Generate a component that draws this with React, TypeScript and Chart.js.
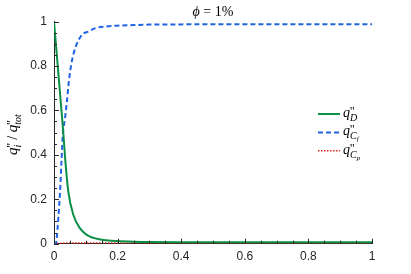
import React, { useEffect, useRef } from "react";
import { Chart, registerables } from "chart.js";

Chart.register(...registerables);

// q''_D (green, solid)
const xD = [0, 0.005, 0.0147, 0.022, 0.029, 0.035, 0.045, 0.061, 0.082, 0.1, 0.113, 0.13, 0.155, 0.197, 0.25, 0.3, 0.4, 0.5, 0.6, 0.7, 0.8, 0.9, 1];
const yD = [1, 0.915, 0.75, 0.625, 0.505, 0.385, 0.234, 0.129, 0.069, 0.043, 0.032, 0.024, 0.017, 0.012, 0.009, 0.008, 0.007, 0.007, 0.006, 0.006, 0.006, 0.006, 0.006];

// q''_Cf (blue, dashed)
const xCf = [0, 0.006, 0.0085, 0.0135, 0.019, 0.024, 0.028, 0.034, 0.04, 0.046, 0.053, 0.062, 0.072, 0.088, 0.109, 0.13, 0.16, 0.197, 0.25, 0.3, 0.4, 0.5, 0.6, 0.7, 0.8, 0.9, 1];
const yCf = [0, 0, 0.024, 0.114, 0.234, 0.385, 0.497, 0.557, 0.632, 0.72, 0.797, 0.857, 0.9, 0.94, 0.955, 0.97, 0.977, 0.981, 0.984, 0.986, 0.987, 0.988, 0.988, 0.988, 0.988, 0.988, 0.988];

// q''_Cp (red, dotted)
const xCp = [0, 0.02, 0.05, 0.1, 0.2, 0.3, 0.4, 0.5, 0.6, 0.7, 0.8, 0.9, 1];
const yCp = [0, 0.002, 0.003, 0.003, 0.003, 0.003, 0.003, 0.003, 0.003, 0.003, 0.003, 0.003, 0.003];

const xLabelValues = [0, 0.2, 0.4, 0.6, 0.8, 1];
const yLabelValues = [0, 0.2, 0.4, 0.6, 0.8, 1];

const GREEN = "#0b8f45";
const BLUE = "#1f63e6";
const RED = "#e0261e";
const AXIS = "#262626";
const SERIF = "'Liberation Serif', 'DejaVu Serif', serif";

type Piece = { t: string; italic?: boolean; size: number; dy: number; stackWithNext?: boolean };

function drawPieces(ctx: CanvasRenderingContext2D, x: number, y: number, pieces: Piece[]) {
  let cx = x;
  let i = 0;
  while (i < pieces.length) {
    const p = pieces[i];
    ctx.font = `${p.italic ? "italic " : ""}${p.size}px ${SERIF}`;
    ctx.fillText(p.t, cx, y + p.dy);
    let w = ctx.measureText(p.t).width;
    if (p.stackWithNext && i + 1 < pieces.length) {
      const n = pieces[i + 1];
      ctx.font = `${n.italic ? "italic " : ""}${n.size}px ${SERIF}`;
      ctx.fillText(n.t, cx, y + n.dy);
      w = Math.max(w, ctx.measureText(n.t).width);
      i += 2;
    } else {
      i += 1;
    }
    cx += w;
  }
  return cx - x;
}

function measurePieces(ctx: CanvasRenderingContext2D, pieces: Piece[]) {
  let total = 0;
  let i = 0;
  while (i < pieces.length) {
    const p = pieces[i];
    ctx.font = `${p.italic ? "italic " : ""}${p.size}px ${SERIF}`;
    let w = ctx.measureText(p.t).width;
    if (p.stackWithNext && i + 1 < pieces.length) {
      const n = pieces[i + 1];
      ctx.font = `${n.italic ? "italic " : ""}${n.size}px ${SERIF}`;
      w = Math.max(w, ctx.measureText(n.t).width);
      i += 2;
    } else i += 1;
    total += w;
  }
  return total;
}

const qPrime = (sub: Piece[], size = 14): Piece[] => [
  { t: "q", italic: true, size, dy: 0 },
  { t: "''", size: 12, dy: -2, stackWithNext: true },
  ...sub,
];

const legendItems = [
  { color: GREEN, dash: [] as number[], width: 2, pieces: qPrime([{ t: "D", italic: true, size: 10, dy: 4 }]) },
  {
    color: BLUE,
    dash: [5, 3],
    width: 2,
    pieces: qPrime([
      { t: "C", italic: true, size: 10, dy: 4 },
      { t: "f", italic: true, size: 7, dy: 6 },
    ]),
  },
  {
    color: RED,
    dash: [1.5, 1.5],
    width: 1.5,
    pieces: qPrime([
      { t: "C", italic: true, size: 10, dy: 4 },
      { t: "p", italic: true, size: 7, dy: 6 },
    ]),
  },
];

const decorPlugin = {
  id: "decor",
  afterDatasetsDraw(chart: any) {
    const ctx: CanvasRenderingContext2D = chart.ctx;
    const { left, right, top, bottom } = chart.chartArea;
    const xs = chart.scales.x;
    const ys = chart.scales.y;
    ctx.save();
    // inward ticks
    ctx.strokeStyle = AXIS;
    ctx.lineWidth = 1;
    ctx.setLineDash([]);
    ctx.beginPath();
    xs.ticks.forEach((t: any) => {
      const major = Math.abs(t.value * 5 - Math.round(t.value * 5)) < 1e-6;
      const px = Math.round(xs.getPixelForValue(t.value)) + 0.5;
      ctx.moveTo(px, bottom);
      ctx.lineTo(px, bottom - (major ? 5 : 3));
    });
    ys.ticks.forEach((t: any) => {
      const major = Math.abs(t.value * 5 - Math.round(t.value * 5)) < 1e-6;
      const py = Math.round(ys.getPixelForValue(t.value)) + 0.5;
      ctx.moveTo(left, py);
      ctx.lineTo(left + (major ? 5 : 3), py);
    });
    ctx.stroke();

    ctx.fillStyle = "#000";
    ctx.textBaseline = "alphabetic";
    ctx.textAlign = "left";
    // title
    const title: Piece[] = [
      { t: "\u03D5", italic: true, size: 14, dy: 0 },
      { t: " = 1%", size: 14, dy: 0 },
    ];
    const tw = measurePieces(ctx, title);
    drawPieces(ctx, (left + right) / 2 - tw / 2, 16, title);

    // y label
    const yl: Piece[] = [
      ...qPrime([{ t: "i", italic: true, size: 10, dy: 4 }], 15),
      { t: " / ", size: 14, dy: 0 },
      ...qPrime([{ t: "tot", italic: true, size: 10, dy: 4 }], 15),
    ];
    const yw = measurePieces(ctx, yl);
    ctx.save();
    ctx.translate(17, (top + bottom) / 2 + 2);
    ctx.rotate(-Math.PI / 2);
    drawPieces(ctx, -yw / 2, 0, yl);
    ctx.restore();

    // legend
    legendItems.forEach((it, i) => {
      const ly = 114 + i * 18.4;
      ctx.strokeStyle = it.color;
      ctx.lineWidth = it.width;
      ctx.setLineDash(it.dash);
      ctx.beginPath();
      ctx.moveTo(318, ly);
      ctx.lineTo(340, ly);
      ctx.stroke();
      ctx.setLineDash([]);
      ctx.fillStyle = "#000";
      drawPieces(ctx, 343, ly + 3, it.pieces);
    });
    ctx.restore();
  },
};

const isMajor = (v: number, labels: number[]) => labels.some((l) => Math.abs(l - v) < 1e-6);

export default function App() {
  const ref = useRef<HTMLCanvasElement>(null);
  useEffect(() => {
    if (!ref.current) return;
    const toPts = (xs: number[], ys: number[]) => xs.map((x, i) => ({ x, y: ys[i] }));
    const chart = new Chart(ref.current, {
      type: "line",
      data: {
        datasets: [
          {
            label: "q''_D",
            data: toPts(xD, yD),
            borderColor: GREEN,
            borderWidth: 2,
            pointRadius: 0,
            cubicInterpolationMode: "monotone",
          },
          {
            label: "q''_Cf",
            data: toPts(xCf, yCf),
            borderColor: BLUE,
            borderWidth: 2,
            borderDash: [5, 3],
            pointRadius: 0,
            cubicInterpolationMode: "monotone",
          },
          {
            label: "q''_Cp",
            data: toPts(xCp, yCp),
            borderColor: RED,
            borderWidth: 1.5,
            borderDash: [1.5, 1.5],
            pointRadius: 0,
            cubicInterpolationMode: "monotone",
          },
        ],
      },
      options: {
        responsive: false,
        animation: false,
        events: [],
        layout: { padding: { left: 0, right: 39, top: 21.5, bottom: 0 } },
        plugins: { legend: { display: false }, tooltip: { enabled: false }, title: { display: false } },
        scales: {
          x: {
            type: "linear",
            min: 0,
            max: 1,
            grid: { display: false, drawTicks: false },
            border: { display: true, color: AXIS, width: 1 },
            ticks: {
              stepSize: 0.05,
              autoSkip: false,
              maxRotation: 0,
              padding: 6,
              color: AXIS,
              font: { family: "'Liberation Sans', Arial, sans-serif", size: 12 },
              callback: (v: any) => (isMajor(Number(v), xLabelValues) ? String(Math.round(Number(v) * 10) / 10) : ""),
            },
            afterFit: (s: any) => {
              s.height = 30.3;
            },
          },
          y: {
            type: "linear",
            min: 0,
            max: 1,
            grid: { display: false, drawTicks: false },
            border: { display: true, color: AXIS, width: 1 },
            ticks: {
              stepSize: 0.05,
              autoSkip: false,
              padding: 7,
              color: AXIS,
              font: { family: "'Liberation Sans', Arial, sans-serif", size: 12 },
              callback: (v: any) => (isMajor(Number(v), yLabelValues) ? String(Math.round(Number(v) * 10) / 10) : ""),
            },
            afterFit: (s: any) => {
              s.width = 54;
            },
          },
        },
      },
      plugins: [decorPlugin],
    });
    return () => chart.destroy();
  }, []);
  return (
    <div style={{ position: "fixed", left: 0, top: 0, width: 411, height: 274, background: "#fff" }}>
      <canvas ref={ref} width={411} height={274} style={{ width: 411, height: 274 }} />
    </div>
  );
}
